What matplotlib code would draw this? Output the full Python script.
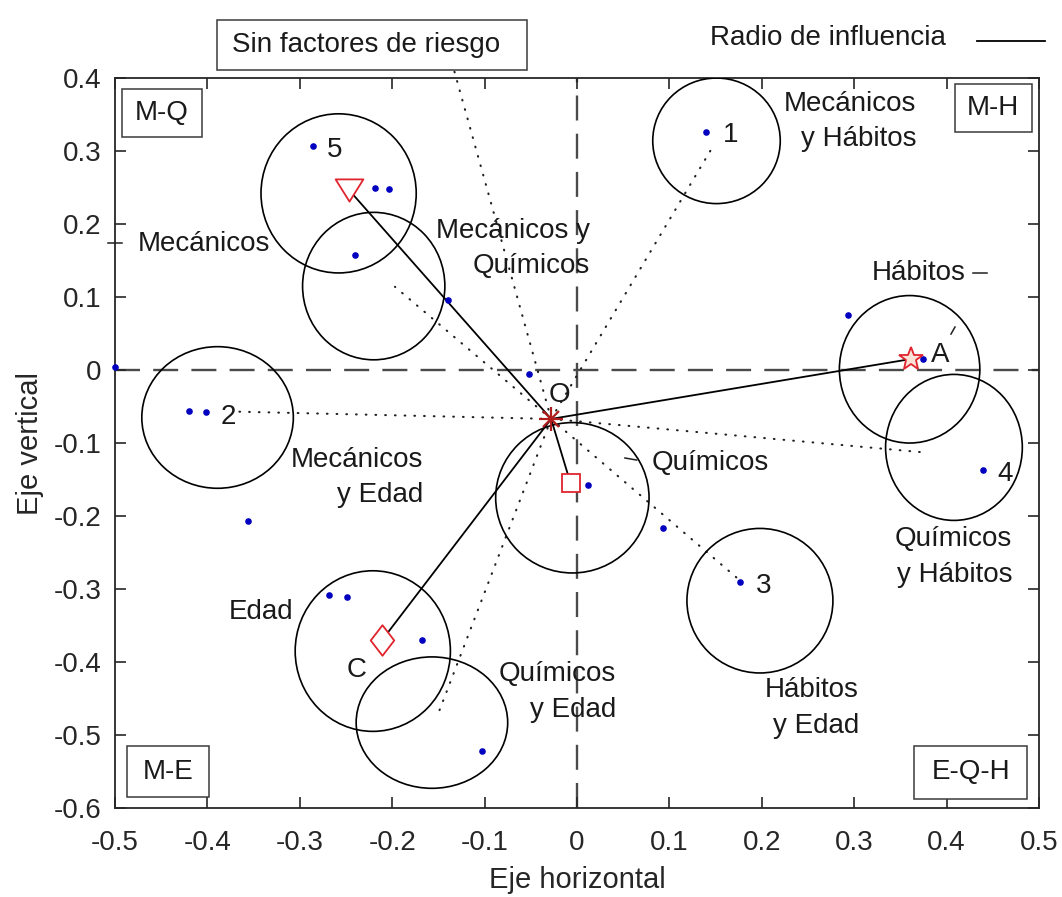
import matplotlib
matplotlib.use("Agg")
import matplotlib.pyplot as plt
from matplotlib.patches import Ellipse, Rectangle
from matplotlib.path import Path
import numpy as np

plt.rcParams['font.family'] = ['Liberation Sans', 'DejaVu Sans']
plt.rcParams['lines.scale_dashes'] = False

# ---- data -------------------------------------------------------------
# individual observations (blue points)
obs_x = [-0.286, -0.219, -0.204, -0.240, -0.140, -0.500, -0.052, -0.420,
         -0.401, -0.356, 0.012, 0.140, 0.293, 0.375, 0.439, 0.093,
         0.176, -0.268, -0.249, -0.168, -0.103]
obs_y = [0.307, 0.249, 0.248, 0.158, 0.096, 0.004, -0.005, -0.056,
         -0.058, -0.207, -0.157, 0.326, 0.075, 0.015, -0.137, -0.217,
         -0.291, -0.308, -0.311, -0.370, -0.522]

# centre point O
origin_x, origin_y = -0.028, -0.067

# group profiles joined to O
prof_x = [-0.247, 0.361, -0.007, -0.211]
prof_y = [0.247, 0.015, -0.155, -0.370]

# influence circles (centre and radius along each axis)
circ_x = [-0.258, -0.220, -0.389, -0.005, 0.151, 0.360, 0.408, 0.198, -0.221, -0.157]
circ_y = [0.242, 0.115, -0.065, -0.175, 0.314, 0.001, -0.106, -0.316, -0.385, -0.483]
circ_rx = [0.084, 0.077, 0.082, 0.083, 0.069, 0.076, 0.074, 0.079, 0.084, 0.082]
circ_ry = [0.109, 0.101, 0.097, 0.103, 0.086, 0.101, 0.100, 0.099, 0.110, 0.090]

# dotted rays from O towards each risk-factor combination
ray_x = [-0.134, -0.197, 0.147, -0.368, 0.377, 0.178, -0.150]
ray_y = [0.415, 0.114, 0.306, -0.057, -0.113, -0.290, -0.470]

# point labels
pt_labels = ['5', '1', '2', '3', '4', 'A', 'O', 'C']
pt_x = [-0.262, 0.166, -0.377, 0.202, 0.463, 0.393, -0.019, -0.239]
pt_y = [0.301, 0.322, -0.064, -0.296, -0.142, 0.021, -0.034, -0.411]

# combination labels (right aligned)
comb_labels = ['Mecánicos y\nQuímicos', 'Mecánicos\ny Hábitos', 'Mecánicos\ny Edad',
               'Químicos\ny Hábitos', 'Hábitos\ny Edad', 'Químicos\ny Edad']
comb_x = [0.014, 0.367, -0.166, 0.471, 0.305, 0.042]
comb_y = [0.167, 0.340, -0.147, -0.256, -0.463, -0.441]

# single-factor labels (left aligned)
single_labels = ['Mecánicos', 'Químicos', 'Hábitos', 'Edad']
single_x = [-0.475, 0.081, 0.319, -0.377]
single_y = [0.172, -0.128, 0.133, -0.331]

# quadrant tags
quad_labels = ['M-Q', 'M-H', 'M-E', 'E-Q-H']
quad_x0 = [-0.492, 0.409, -0.487, 0.365]
quad_x1 = [-0.406, 0.492, -0.398, 0.487]
quad_y0 = [0.319, 0.326, -0.585, -0.587]
quad_y1 = [0.385, 0.392, -0.515, -0.515]

xticks = [-0.5, -0.4, -0.3, -0.2, -0.1, 0.0, 0.1, 0.2, 0.3, 0.4, 0.5]
xtick_labels = ['-0.5', '-0.4', '-0.3', '-0.2', '-0.1', '0', '0.1', '0.2', '0.3', '0.4', '0.5']
yticks = [-0.6, -0.5, -0.4, -0.3, -0.2, -0.1, 0.0, 0.1, 0.2, 0.3, 0.4]
ytick_labels = ['-0.6', '-0.5', '-0.4', '-0.3', '-0.2', '-0.1', '0', '0.1', '0.2', '0.3', '0.4']

# short label pointer ticks (x0, x1, y0, y1)
ptr_x0 = [0.4286, 0.0519, -0.5076, 0.4048]
ptr_x1 = [0.4437, 0.0646, -0.4924, 0.4091]
ptr_y0 = [0.1329, -0.1205, 0.1744, 0.0493]
ptr_y1 = [0.1329, -0.1233, 0.1744, 0.0589]

# ---- figure -----------------------------------------------------------
fig = plt.figure(figsize=(10.62, 8.97), dpi=100)
ax = fig.add_axes([0.1083, 0.0992, 0.870, 0.8138])
ax.set_xlim(-0.5, 0.5)
ax.set_ylim(-0.6, 0.4)

dark = '#262626'
red = '#E0242E'
fs = 20

# reference axes through the origin
ax.axhline(0, color='#4a4a4a', lw=1.7, dashes=(18, 9.5), zorder=1)
ax.axvline(0, color='#4a4a4a', lw=1.7, dashes=(18, 9.5), zorder=1)

# dotted rays
for rx, ry in zip(ray_x, ray_y):
    ax.plot([origin_x, rx], [origin_y, ry], color='#202020', lw=1.5,
            dashes=(0.5, 6.5), dash_capstyle='round', clip_on=False, zorder=2)

# influence circles
for cx, cy, rx, ry in zip(circ_x, circ_y, circ_rx, circ_ry):
    ax.add_patch(Ellipse((cx, cy), 2 * rx, 2 * ry, fill=False,
                         ec='k', lw=1.2, zorder=3))

# solid links from O to each group profile
for px, py in zip(prof_x, prof_y):
    ax.plot([origin_x, px], [origin_y, py], color='k', lw=1.3, zorder=4)

# observations
ax.plot(obs_x, obs_y, '.', color='#0000C0', ms=7.5, clip_on=False, zorder=5)

# profile markers
tri = Path([(-1, 0.8), (1, 0.8), (0, -0.8), (-1, 0.8)],
           [Path.MOVETO, Path.LINETO, Path.LINETO, Path.CLOSEPOLY])
dia = Path([(0, 1), (0.77, 0), (0, -1), (-0.77, 0), (0, 1)],
           [Path.MOVETO, Path.LINETO, Path.LINETO, Path.LINETO, Path.CLOSEPOLY])
markers = [tri, '*', 's', dia]
msizes = [20, 18, 13, 22]
faces = ['white', '#FBE1D6', 'white', 'white']
for px, py, mk, ms, fc in zip(prof_x, prof_y, markers, msizes, faces):
    ax.plot([px], [py], marker=mk, ms=ms, mfc=fc, mec=red, mew=1.3,
            ls='none', zorder=6)

# centre asterisk
ax.plot([origin_x], [origin_y], marker='+', ms=17, mec='#B01C1C', mew=1.6, zorder=7)
ax.plot([origin_x], [origin_y], marker='x', ms=12, mec='#B01C1C', mew=1.6, zorder=7)

# label pointer ticks
for x0, x1, y0, y1 in zip(ptr_x0, ptr_x1, ptr_y0, ptr_y1):
    ax.plot([x0, x1], [y0, y1], color='#202020', lw=1.1, clip_on=False, zorder=4)

# texts
tc = '#1a1a1a'
for s, x, y in zip(pt_labels, pt_x, pt_y):
    ax.text(x, y, s, fontsize=fs, color=tc, ha='center', va='center', zorder=8)
for s, x, y in zip(comb_labels, comb_x, comb_y):
    ax.text(x, y, s, fontsize=fs, color=tc, ha='right', va='center',
            multialignment='right', linespacing=1.46, zorder=8)
for s, x, y in zip(single_labels, single_x, single_y):
    ax.text(x, y, s, fontsize=fs, color=tc, ha='left', va='center', zorder=8)

# quadrant tags in boxes
for s, x0, x1, y0, y1 in zip(quad_labels, quad_x0, quad_x1, quad_y0, quad_y1):
    ax.add_patch(Rectangle((x0, y0), x1 - x0, y1 - y0, fill=True, fc='white',
                           ec='#3a3a3a', lw=1.1, zorder=8))
    ax.text((x0 + x1) / 2, (y0 + y1) / 2, s, fontsize=fs, color=tc,
            ha='center', va='center', zorder=9)

# "no risk factor" tag above the axes
ax.add_patch(Rectangle((-0.390, 0.411), 0.3355, 0.0685, fill=True, fc='white',
                       ec='#3a3a3a', lw=1.1, clip_on=False, zorder=8))
ax.text(-0.3734, 0.4452, 'Sin factores de riesgo', fontsize=fs, color=tc,
        ha='left', va='center', clip_on=False, zorder=9)

# legend entry for the circles
ax.text(0.144, 0.4548, 'Radio de influencia', fontsize=fs, color=tc,
        ha='left', va='center', clip_on=False)
ax.plot([0.4326, 0.5065], [0.4507, 0.4507], color='k', lw=1.3, clip_on=False)

# axes styling
ax.set_xticks(xticks)
ax.set_xticklabels(xtick_labels)
ax.set_yticks(yticks)
ax.set_yticklabels(ytick_labels)
ax.tick_params(direction='in', length=8, width=1.2, top=True, right=True,
               labelsize=fs, colors=dark)
ax.tick_params(axis='x', pad=16)
ax.tick_params(axis='y', pad=10)
for sp in ax.spines.values():
    sp.set_color(dark)
    sp.set_linewidth(1.3)

ax.set_xlabel('Eje horizontal', fontsize=21, color=dark)
ax.set_ylabel('Eje vertical', fontsize=21, color=dark)
ax.xaxis.set_label_coords(0.5, -0.08)
ax.yaxis.set_label_coords(-0.077, 0.5)

fig.savefig('out.png', dpi=100)
